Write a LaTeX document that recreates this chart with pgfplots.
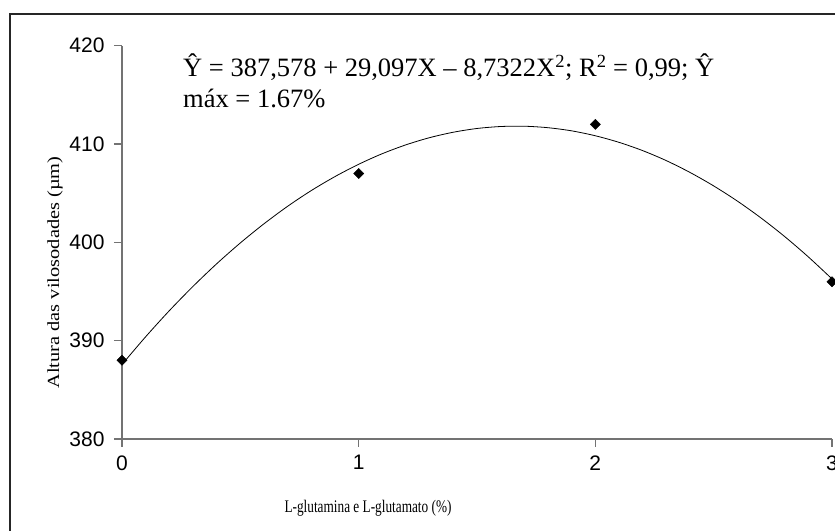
\documentclass[border=0pt]{standalone}
\usepackage{fontspec}
\setmainfont{Liberation Serif}
\newfontfamily\ticksf{Liberation Sans}
\usepackage{pgfplots}
\pgfplotsset{compat=1.18}

% observed means
\pgfplotstableread{
x y
0 388
1 407
2 412
3 396
}\obsdata

% fitted curve, read at 0.1 steps
\pgfplotstableread{
x y
0.0 387.58
0.1 390.40
0.2 393.05
0.3 395.52
0.4 397.82
0.5 399.94
0.6 401.89
0.7 403.67
0.8 405.27
0.9 406.69
1.0 407.94
1.1 409.02
1.2 409.92
1.3 410.65
1.4 411.20
1.5 411.58
1.6 411.78
1.7 411.81
1.8 411.66
1.9 411.34
2.0 410.84
2.1 410.17
2.2 409.33
2.3 408.31
2.4 407.11
2.5 405.74
2.6 404.20
2.7 402.48
2.8 400.59
2.9 398.52
3.0 396.28
}\fitdata

\begin{document}
\begin{tikzpicture}
\useasboundingbox (0pt,0pt) rectangle (835pt,530pt);
\clip (0pt,0pt) rectangle (835pt,530pt);
\draw[line width=2pt, black!85] (10pt,-30pt) rectangle (880pt,516pt);

\begin{scope}[shift={(122pt,91pt)}]
\begin{axis}[
  at={(0pt,0pt)}, anchor=south west,
  scale only axis, width=710pt, height=393.3pt,
  xmin=0, xmax=3, ymin=380, ymax=420,
  axis x line=bottom, axis y line=left,
  axis line style={-, black!55, line width=1.3pt},
  xtick={0,1,2,3}, ytick={380,390,400,410,420},
  tick align=outside, major tick length=8pt,
  tick style={black!55, line width=1.3pt},
  tick label style={font=\ticksf\fontsize{21}{24}\selectfont},
  /pgf/number format/assume math mode=true,
  yticklabel style={anchor=east, xshift=-6pt},
  xticklabel style={anchor=north, yshift=-5pt},
  clip=false,
]
\addplot[black, line width=0.8pt, smooth] table {\fitdata};
\addplot[only marks, mark=square*, mark size=3.6pt,
  mark options={rotate=45, fill=black, draw=black}] table {\obsdata};
\end{axis}
\end{scope}

\node[anchor=center] at (368pt,22pt)
  {\scalebox{0.75}[1]{\fontsize{17.7}{20}\selectfont L-glutamina e L-glutamato (\%)}};
\node[rotate=90, anchor=center] at (55pt,257.5pt)
  {\scalebox{1.2}[1]{\fontsize{17}{20}\selectfont Altura das vilosodades (µm)}};

\node[anchor=base west, inner sep=0pt, font=\fontsize{26.5}{30}\selectfont]
  at (183pt,453.3pt)
  {Ŷ = 387,578 + 29,097X – 8,7322X\textsuperscript{2}; R\textsuperscript{2} = 0,99; Ŷ};
\node[anchor=base west, inner sep=0pt, font=\fontsize{26.5}{30}\selectfont]
  at (183pt,422pt) {máx = 1.67\%};
\end{tikzpicture}
\end{document}
